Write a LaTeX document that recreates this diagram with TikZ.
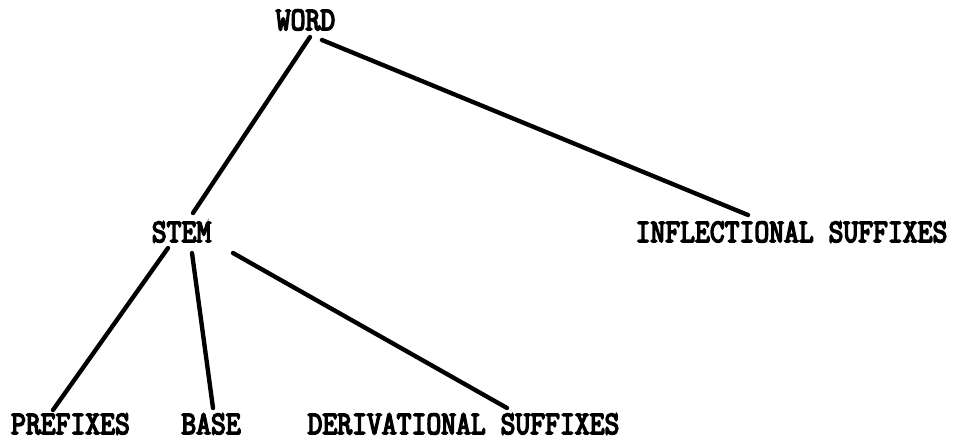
\documentclass[tikz,border=0pt]{standalone}
\usepackage{fontspec}
\newfontfamily\typewfont[FakeBold=5]{Latin Modern Mono}
\usetikzlibrary{positioning}

\begin{document}
\begin{tikzpicture}[
    x=0.025cm, y=-0.025cm,
    part/.style={font=\typewfont\fontsize{20.5pt}{22pt}\selectfont, inner sep=0pt, anchor=base, yscale=1.14, transform shape},
    branch/.style={line width=3.1pt, line cap=round}
]
\useasboundingbox (0,0) rectangle (961,443);
\node[part] (word) at (305.5,30) {WORD};
\node[part] (stem) at (181.5,242) {STEM};
\node[part] (infl) at (791.5,242) {INFLECTIONAL SUFFIXES};
\node[part] (prefix) at (70.5,434) {PREFIXES};
\node[part] (base) at (211,434) {BASE};
\node[part] (deriv) at (463.5,434) {DERIVATIONAL SUFFIXES};
\draw[branch] ([shift={(4.5,7)}]word.base) -- ([shift={(11.5,-29)}]stem.base);
\draw[branch] ([shift={(16.5,10)}]word.base) -- ([shift={(-43.5,-27)}]infl.base);
\draw[branch] ([shift={(-13.5,6)}]stem.base) -- ([shift={(-17.5,-24)}]prefix.base);
\draw[branch] ([shift={(10.5,11)}]stem.base) -- ([shift={(2,-26)}]base.base);
\draw[branch] ([shift={(51.5,11)}]stem.base) -- ([shift={(43.5,-26)}]deriv.base);
\end{tikzpicture}
\end{document}
